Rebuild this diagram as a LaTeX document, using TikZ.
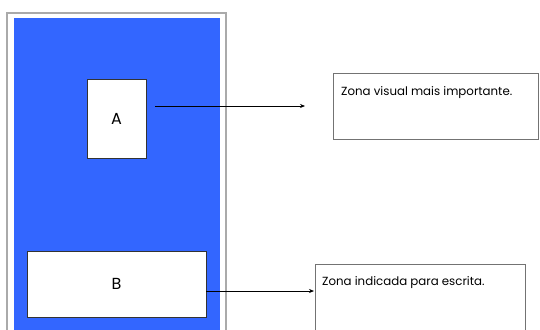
\documentclass[tikz,border=0pt]{standalone}
\usepackage{fontspec}
\setmainfont{Liberation Sans}
\newfontfamily\notefont{Poppins}
\usetikzlibrary{arrows.meta}
\definecolor{zoneblue}{RGB}{51,102,255}
\definecolor{framegray}{RGB}{170,170,170}
\begin{document}
\begin{tikzpicture}[x=1pt,y=-1pt,
  whitebox/.style={draw=black!80,fill=white,line width=0.8pt,inner sep=0pt},
  notebox/.style={draw=black!55,fill=white,line width=0.9pt,inner sep=0pt},
  notetext/.style={anchor=north west,inner sep=0pt,font=\notefont\fontsize{11.8}{13}\selectfont},
  conn/.style={line width=0.7pt,-{Stealth[length=5pt,width=4pt]}}]
\useasboundingbox (0,0) rectangle (540,329);
\begin{scope}
\clip (0,0) rectangle (540,329);
\fill[white] (0,0) rectangle (540,329);
\draw[framegray,line width=1.4pt] (7,13) rectangle (226,340);
\fill[zoneblue] (14,18) rectangle (220,340);
\node[notebox,minimum width=210pt,minimum height=80pt,anchor=north west] (nb) at (315,264) {};
\end{scope}
\node[whitebox,minimum width=59pt,minimum height=79pt,font=\notefont\fontsize{16}{18}\selectfont] (A) at (116.5,118.5) {A};
\node[whitebox,minimum width=179pt,minimum height=66pt,font=\notefont\fontsize{16}{18}\selectfont] (B) at (116.5,284) {B};
\node[notebox,minimum width=205pt,minimum height=66pt,anchor=north west] (na) at (333,73) {};
\node[notetext] (ta) at (341,86) {Zona visual mais importante.};
\node[notetext] (tb) at (322,276) {Zona indicada para escrita.};
\coordinate (as) at (155,106);
\coordinate (ae) at (305,106);
\coordinate (be) at (314,291);
\draw[conn] (as) -- (ae);
\draw[conn] (B.east |- be) -- (be);
\end{tikzpicture}
\end{document}
